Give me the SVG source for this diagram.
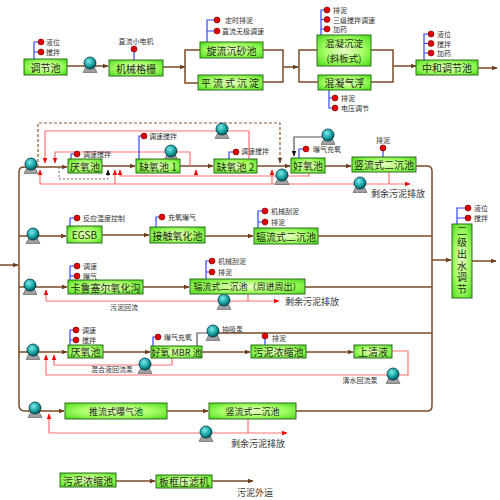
<svg xmlns="http://www.w3.org/2000/svg" width="500" height="500" viewBox="0 0 500 500">
<defs>
<radialGradient id="gb" cx="50%" cy="50%" r="65%"><stop offset="0" stop-color="#eaffc8"/><stop offset="0.55" stop-color="#a6ff66"/><stop offset="1" stop-color="#55dd22"/></radialGradient>
<radialGradient id="gp" cx="40%" cy="35%" r="65%"><stop offset="0" stop-color="#7fe8e8"/><stop offset="0.6" stop-color="#1aa6a6"/><stop offset="1" stop-color="#005a5a"/></radialGradient>
<marker id="aB" viewBox="0 0 10 10" refX="9" refY="5" markerWidth="6" markerHeight="6" orient="auto" markerUnits="userSpaceOnUse"><path d="M0 1 L10 5 L0 9 Z" fill="#6b3d1c"/></marker>
<marker id="aR" viewBox="0 0 10 10" refX="9" refY="5" markerWidth="6" markerHeight="6" orient="auto" markerUnits="userSpaceOnUse"><path d="M0 1 L10 5 L0 9 Z" fill="#ff0000"/></marker>
<marker id="aK" viewBox="0 0 10 10" refX="9" refY="5" markerWidth="6" markerHeight="6" orient="auto" markerUnits="userSpaceOnUse"><path d="M0 1 L10 5 L0 9 Z" fill="#111"/></marker>
<g id="pump"><path d="M-4 3.5 L4 3.5 L7 9.5 L-7 9.5 Z" fill="#a0a0a0" stroke="#555" stroke-width="0.6"/><circle r="6" fill="url(#gp)" stroke="#034" stroke-width="0.8"/></g>
</defs>
<style>
.box{fill:url(#gb);stroke:#2f6e1c;stroke-width:1}
.bt{font-family:"Noto Sans CJK SC","Noto Sans",sans-serif;font-size:10px;fill:#1e2a14;text-anchor:middle;dominant-baseline:central}
.lb{font-family:"Noto Sans CJK SC","Noto Sans",sans-serif;font-size:7px;fill:#333;dominant-baseline:central}
.lc{text-anchor:middle}
.fl{stroke:#7b4a26;stroke-width:1.5;fill:none}
.rd{stroke:#ff7070;stroke-width:1.2;fill:none}
.gr{stroke:#555;stroke-width:1.2;fill:none}
.bl{stroke:#3344ff;stroke-width:1.2;fill:none}
.dot{fill:#e00000;stroke:#700;stroke-width:0.6}
</style>
<rect width="500" height="500" fill="#fff"/>

<g id="connectors">
<!-- top row -->
<path class="fl" d="M67 66 L108 66" marker-end="url(#aB)"/>
<path class="fl" d="M163 67 L185 67" marker-end="url(#aB)"/>
<path class="fl" d="M200 50 L185 50 L185 83 L198 83"/>
<path class="fl" d="M263 50 L283 50 L283 82 L263 82"/>
<path class="fl" d="M283 67 L298 67" marker-end="url(#aB)"/>
<path class="fl" d="M317 50 L299 50 L299 82 L318 82"/>
<path class="fl" d="M371 50 L393 50 L393 82 L371 82"/>
<path class="fl" d="M393 66 L416 66" marker-end="url(#aB)"/>
<path class="fl" d="M478 68 L497 68" marker-end="url(#aB)"/>
<!-- left collector -->
<path class="fl" d="M0 265 L18 265" marker-end="url(#aB)"/>
<path class="fl" d="M24 167 Q19 167 19 172 L19 405 Q19 411 25 411"/>
<path class="fl" d="M24 167 L67 167" marker-end="url(#aB)"/>
<path class="fl" d="M19 236 L66 236" marker-end="url(#aB)"/>
<path class="fl" d="M19 287 L67 287" marker-end="url(#aB)"/>
<path class="fl" d="M19 352 L67 352" marker-end="url(#aB)"/>
<path class="fl" d="M25 411 L64 411" marker-end="url(#aB)"/>
<!-- branch 1 -->
<path class="fl" d="M102 166 L135 166" marker-end="url(#aB)"/>
<path class="fl" d="M180 166 L213 166" marker-end="url(#aB)"/>
<path class="fl" d="M257 166 L290 166" marker-end="url(#aB)"/>
<path class="fl" d="M325 166 L351 166" marker-end="url(#aB)"/>
<path class="fl" d="M416 166 L427 166 Q432 166 432 171 L432 406 Q432 411 427 411 L296 411"/>
<path d="M38 167 L38 123 L280 123 L280 163" fill="none" stroke="#8a5a30" stroke-width="1.2" stroke-dasharray="3 2" marker-end="url(#aB)"/>
<path d="M59 167 L59 179 L108 179 L108 170" fill="none" stroke="#666" stroke-width="1" stroke-dasharray="2 2" marker-end="url(#aK)"/>
<path class="rd" d="M249 159 L249 131 L45 131 L45 163" marker-end="url(#aR)"/>
<path class="rd" d="M190 166 L190 152 L55 152 L55 163" marker-end="url(#aR)"/>
<path class="rd" d="M309 173 L309 176 L120 176 L120 170" marker-end="url(#aR)"/>
<path class="rd" d="M196 176 L196 170" marker-end="url(#aR)"/>
<path class="rd" d="M389 172 L389 184"/>
<path class="rd" d="M40 184 L410 184" marker-end="url(#aR)"/>
<path class="rd" d="M40 184 L40 170" marker-end="url(#aR)"/>
<path class="rd" d="M115 184 L115 170" marker-end="url(#aR)"/>
<path class="rd" d="M272 184 L272 170" marker-end="url(#aR)"/>
<path class="gr" d="M328 137 L294 137 L294 156" marker-end="url(#aK)"/>
<!-- branch 2 -->
<path class="fl" d="M102 235 L149 235" marker-end="url(#aB)"/>
<path class="fl" d="M205 236 L253 236" marker-end="url(#aB)"/>
<path class="fl" d="M318 236 L432 236"/>
<!-- branch 3 -->
<path class="fl" d="M143 287 L189 287" marker-end="url(#aB)"/>
<path class="fl" d="M305 287 L432 287"/>
<path class="rd" d="M248 294 L248 301"/>
<path class="rd" d="M46 301 L279 301" marker-end="url(#aR)"/>
<path class="rd" d="M46 301 L46 290" marker-end="url(#aR)"/>
<!-- branch 4 -->
<path class="fl" d="M103 352 L150 352" marker-end="url(#aB)"/>
<path class="fl" d="M202 352 L250 352" marker-end="url(#aB)"/>
<path class="fl" d="M306 352 L353 352" marker-end="url(#aB)"/>
<path class="gr" d="M197 346 L197 333 L213 333"/>
<path class="fl" d="M213 333 L432 333"/>
<path class="rd" d="M172 358 L172 365 L54 365 L54 355" marker-end="url(#aR)"/>
<path class="rd" d="M392 351 L408 351 L408 375 L46 375 L46 355" marker-end="url(#aR)"/>
<!-- output -->
<path class="fl" d="M432 260 L451 260" marker-end="url(#aB)"/>
<path class="fl" d="M472 261 L496 261" marker-end="url(#aB)"/>
<!-- branch 5 -->
<path class="fl" d="M167 411 L208 411" marker-end="url(#aB)"/>
<path class="rd" d="M248 419 L248 433"/>
<path class="rd" d="M49 433 L287 433" marker-end="url(#aR)"/>
<path class="rd" d="M49 433 L49 414" marker-end="url(#aR)"/>
<!-- bottom -->
<path class="fl" d="M116 481 L155 481" marker-end="url(#aB)"/>
<path class="fl" d="M212 481 L253 481" marker-end="url(#aB)"/>
<!-- sensor lines -->
<path class="bl" d="M41 42 L34 42 L34 59 M41 52 L34 52"/>
<path class="bl" d="M134 49 L134 60"/>
<path class="bl" d="M217 20 L207 20 L207 42 M217 31 L207 31"/>
<path class="bl" d="M327 10 L321 10 L321 35 M327 19.5 L321 19.5 M327 29 L321 29"/>
<path class="bl" d="M329 90 L329 108 L335 108 M329 98 L335 98"/>
<path class="bl" d="M431 34 L424 34 L424 60 M431 43.5 L424 43.5 M431 53 L424 53"/>
<path class="bl" d="M71 159 L71 154 L77 154"/>
<path class="bl" d="M139 159 L139 136 L144 136"/>
<path class="bl" d="M229 159 L229 152 L236 152"/>
<path class="bl" d="M299 158 L299 149 L306 149"/>
<path class="bl" d="M383 148 L383 157"/>
<path class="bl" d="M70 226 L70 218 L77 218"/>
<path class="bl" d="M156 227 L156 217 L162 217"/>
<path class="bl" d="M258 228 L258 211 L265 211 M258 222 L265 222"/>
<path class="bl" d="M70 280 L70 266 L77 266 M70 276 L77 276"/>
<path class="bl" d="M206 279 L206 261 L212 261 M206 272 L212 272"/>
<path class="bl" d="M70 345 L70 330 L76 330 M70 340 L76 340"/>
<path class="bl" d="M153 346 L153 337 L158 337"/>
<path class="bl" d="M265 336 L265 345"/>
<path class="bl" d="M457 224 L457 208 L468 208 M457 218 L468 218"/>
</g>

<g id="pumps">
<use href="#pump" x="90" y="63"/>
<use href="#pump" x="31" y="164"/>
<use href="#pump" x="33" y="234"/>
<use href="#pump" x="30" y="285"/>
<use href="#pump" x="33" y="350"/>
<use href="#pump" x="35" y="408"/>
<use href="#pump" x="171" y="151"/>
<use href="#pump" x="222" y="129"/>
<use href="#pump" x="328" y="135"/>
<use href="#pump" x="282" y="175"/>
<use href="#pump" x="360" y="183"/>
<use href="#pump" x="224" y="300"/>
<use href="#pump" x="213" y="331"/>
<use href="#pump" x="145" y="364"/>
<use href="#pump" x="393" y="374"/>
<use href="#pump" x="206" y="432"/>
</g>

<g id="sensors">
<circle class="dot" cx="41" cy="42" r="3"/><circle class="dot" cx="41" cy="52" r="3"/>
<circle class="dot" cx="134" cy="49" r="3"/>
<circle class="dot" cx="217" cy="20" r="3"/><circle class="dot" cx="217" cy="31" r="3"/>
<circle class="dot" cx="327" cy="10" r="3"/><circle class="dot" cx="327" cy="19.5" r="3"/><circle class="dot" cx="327" cy="29" r="3"/>
<circle class="dot" cx="335" cy="98" r="3"/><circle class="dot" cx="335" cy="108" r="3"/>
<circle class="dot" cx="431" cy="34" r="3"/><circle class="dot" cx="431" cy="43.5" r="3"/><circle class="dot" cx="431" cy="53" r="3"/>
<circle class="dot" cx="77" cy="154" r="3"/>
<circle class="dot" cx="144" cy="136" r="3"/>
<circle class="dot" cx="236" cy="152" r="3"/>
<circle class="dot" cx="306" cy="149" r="3"/>
<circle class="dot" cx="383" cy="148" r="3"/>
<circle class="dot" cx="77" cy="218" r="3"/>
<circle class="dot" cx="162" cy="217" r="3"/>
<circle class="dot" cx="265" cy="211" r="3"/><circle class="dot" cx="265" cy="222" r="3"/>
<circle class="dot" cx="77" cy="266" r="3"/><circle class="dot" cx="77" cy="276" r="3"/>
<circle class="dot" cx="212" cy="261" r="3"/><circle class="dot" cx="212" cy="272" r="3"/>
<circle class="dot" cx="76" cy="330" r="3"/><circle class="dot" cx="76" cy="340" r="3"/>
<circle class="dot" cx="158" cy="337" r="3"/>
<circle class="dot" cx="265" cy="336" r="3"/>
<circle class="dot" cx="468" cy="208" r="3"/><circle class="dot" cx="468" cy="218" r="3"/>
</g>

<g id="labels">
<text class="lb" x="46" y="42">液位</text><text class="lb" x="46" y="52">搅拌</text>
<text class="lb lc" x="136" y="41">直流小电机</text>
<text class="lb" x="225" y="20">定时排泥</text><text class="lb" x="222" y="31">直流无极调速</text>
<text class="lb" x="333" y="10">排泥</text><text class="lb" x="333" y="19.5">三级搅拌调速</text><text class="lb" x="333" y="29">加药</text>
<text class="lb" x="341" y="98">排泥</text><text class="lb" x="341" y="108">电压调节</text>
<text class="lb" x="437" y="34">液位</text><text class="lb" x="437" y="43.5">搅拌</text><text class="lb" x="437" y="53">加药</text>
<text class="lb" x="83" y="154">调速搅拌</text>
<text class="lb" x="149" y="136">调速搅拌</text>
<text class="lb" x="241" y="151">调速搅拌</text>
<text class="lb" x="313" y="149">曝气充氧</text>
<text class="lb lc" x="383" y="140">排泥</text>
<text class="lb lc" x="398" y="193" style="font-size:9px">剩余污泥排放</text>
<text class="lb" x="83" y="218">反应温度控制</text>
<text class="lb" x="168" y="217">充氧曝气</text>
<text class="lb" x="271" y="211">机械刮泥</text><text class="lb" x="271" y="222">排泥</text>
<text class="lb" x="83" y="266">调速</text><text class="lb" x="83" y="276">曝气</text>
<text class="lb" x="218" y="261">机械刮泥</text><text class="lb" x="218" y="272">排泥</text>
<text class="lb lc" x="124" y="307">污泥回流</text>
<text class="lb" x="285" y="301" style="font-size:9px">剩余污泥排放</text>
<text class="lb" x="82" y="330">调速</text><text class="lb" x="82" y="340">搅拌</text>
<text class="lb" x="164" y="337">曝气充氧</text>
<text class="lb" x="222" y="329">抽吸泵</text>
<text class="lb" x="272" y="338">排泥</text>
<text class="lb lc" x="112" y="369">混合液回流泵</text>
<text class="lb lc" x="360" y="380">清水回流泵</text>
<text class="lb lc" x="258" y="443" style="font-size:9px">剩余污泥排放</text>
<text class="lb lc" x="255" y="492" style="font-size:9px">污泥外运</text>
<text class="lb" x="474" y="208">液位</text><text class="lb" x="474" y="218">搅拌</text>
</g>

<g id="n-tiaojiechi"><rect class="box" x="24" y="59" width="43" height="16"/><text class="bt" x="45.5" y="67">调节池</text></g>
<g id="n-geshan"><rect class="box" x="109" y="60" width="54" height="16"/><text class="bt" x="136" y="68">机械格栅</text></g>
<g id="n-xuanliu"><rect class="box" x="200" y="42" width="63" height="16"/><text class="bt" x="231.5" y="50">旋流沉砂池</text></g>
<g id="n-pingliu"><rect class="box" x="198" y="75" width="65" height="15"/><text class="bt" x="231" y="82.5" style="letter-spacing:2px">平流式沉淀</text></g>
<g id="n-hunning"><rect class="box" x="317" y="35" width="54" height="31"/><text class="bt" x="344" y="43.3" style="font-size:9.5px">混凝沉淀</text><text class="bt" x="344" y="57.6" style="font-size:9.5px">(斜板式)</text></g>
<g id="n-qifu"><rect class="box" x="318" y="75" width="53" height="15"/><text class="bt" x="344.5" y="82.5">混凝气浮</text></g>
<g id="n-zhonghe"><rect class="box" x="416" y="60" width="62" height="15"/><text class="bt" x="447" y="67.5">中和调节池</text></g>

<g id="n-yanyang1"><rect class="box" x="68" y="159" width="34" height="14"/><text class="bt" x="85" y="166">厌氧池</text></g>
<g id="n-queyang1"><rect class="box" x="136" y="159" width="44" height="14"/><text class="bt" x="158" y="166">缺氧池 1</text></g>
<g id="n-queyang2"><rect class="box" x="214" y="159" width="43" height="14"/><text class="bt" x="235.5" y="166">缺氧池 2</text></g>
<g id="n-haoyang1"><rect class="box" x="291" y="158" width="34" height="15"/><text class="bt" x="308" y="165.5">好氧池</text></g>
<g id="n-shuliu1"><rect class="box" x="352" y="157" width="64" height="15"/><text class="bt" x="384" y="164.5">竖流式二沉池</text></g>

<g id="n-egsb"><rect class="box" x="67" y="226" width="35" height="17"/><text class="bt" x="84.5" y="234.5">EGSB</text></g>
<g id="n-jiechu"><rect class="box" x="150" y="227" width="55" height="16"/><text class="bt" x="177.5" y="235">接触氧化池</text></g>
<g id="n-fuliu1"><rect class="box" x="254" y="228" width="64" height="16"/><text class="bt" x="286" y="236">辐流式二沉池</text></g>

<g id="n-kalu"><rect class="box" x="68" y="280" width="75" height="14"/><text class="bt" x="105.5" y="287">卡鲁塞尔氧化沟</text></g>
<g id="n-fuliu2"><rect class="box" x="190" y="279" width="115" height="15"/><text class="bt" x="247.5" y="286.5" style="font-size:9px">辐流式二沉池（周进周出）</text></g>

<g id="n-yanyang2"><rect class="box" x="68" y="345" width="35" height="13"/><text class="bt" x="85.5" y="351.5">厌氧池</text></g>
<g id="n-mbr"><rect class="box" x="151" y="346" width="51" height="12"/><text class="bt" x="176.5" y="352" style="font-size:9px">好氧 MBR 池</text></g>
<g id="n-nongsuo1"><rect class="box" x="251" y="345" width="55" height="13"/><text class="bt" x="278.5" y="351.5">污泥浓缩池</text></g>
<g id="n-shangqing"><rect class="box" x="354" y="345" width="38" height="13"/><text class="bt" x="373" y="351.5">上清液</text></g>

<g id="n-erji"><rect class="box" x="452" y="224" width="20" height="74"/>
<text class="bt" x="462" y="261" writing-mode="vertical-rl" style="letter-spacing:1.7px">二级出水调节</text></g>

<g id="n-tuiliu"><rect class="box" x="65" y="403" width="102" height="16"/><text class="bt" x="116" y="411" style="font-size:9px">推流式曝气池</text></g>
<g id="n-shuliu2"><rect class="box" x="209" y="403" width="87" height="16"/><text class="bt" x="252.5" y="411" style="font-size:9px">竖流式二沉池</text></g>

<g id="n-nongsuo2"><rect class="box" x="60" y="473" width="56" height="14"/><text class="bt" x="88" y="480">污泥浓缩池</text></g>
<g id="n-yalv"><rect class="box" x="156" y="475" width="56" height="13"/><text class="bt" x="184" y="481.5">板框压滤机</text></g>
</svg>
